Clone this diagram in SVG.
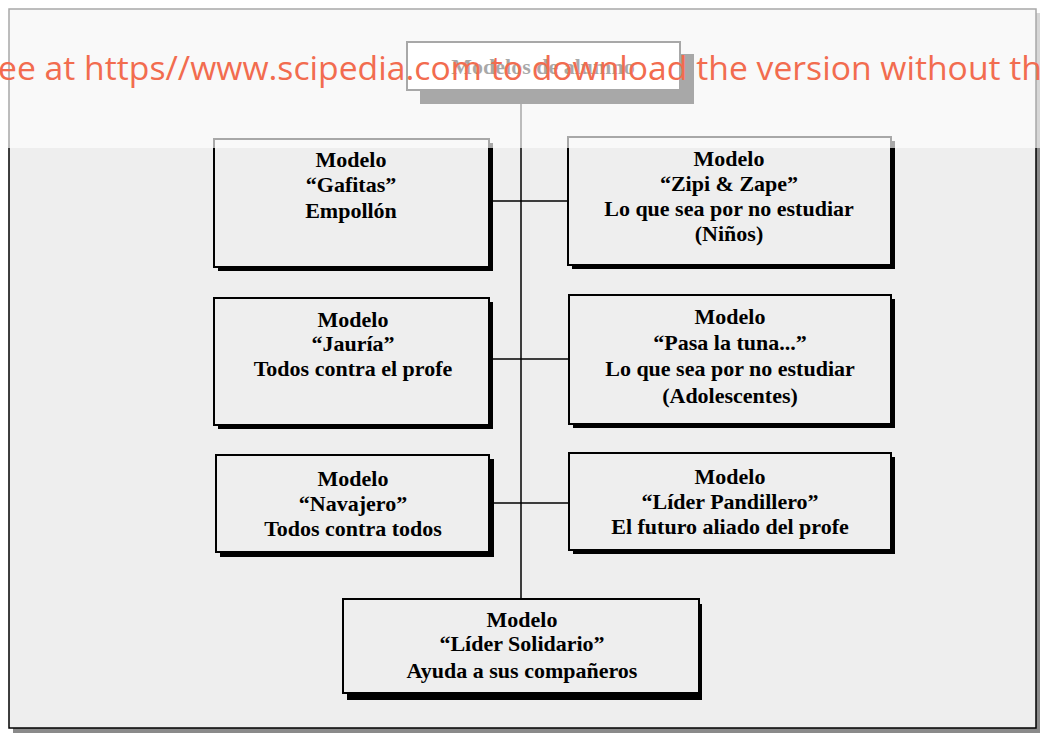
<svg xmlns="http://www.w3.org/2000/svg" width="1042" height="735" viewBox="0 0 1042 735">
<style>
.sh{fill:#000}
.bx{fill:#eeeeee;stroke:#000;stroke-width:2}
.t{font-family:"Liberation Serif","Times New Roman",serif;font-weight:bold;font-size:22px;fill:#000;text-anchor:middle}
.ln{stroke:#000;stroke-width:1.5;fill:none}
</style>
<rect x="0" y="0" width="1042" height="735" fill="#ffffff"/>
<rect x="13" y="13" width="1027" height="720" fill="#8a8a8a"/>
<rect x="9" y="9" width="1027" height="719" fill="#eeeeee" stroke="#000" stroke-width="1.5"/>
<g id="connectors">
<line class="ln" x1="521" y1="90" x2="521" y2="599"/>
<line class="ln" x1="489" y1="201" x2="568" y2="201"/>
<line class="ln" x1="489" y1="359" x2="569" y2="359"/>
<line class="ln" x1="489" y1="503" x2="569" y2="503"/>
</g>
<g id="n0">
<rect x="420" y="54" width="274" height="50" fill="#000"/>
<rect x="407" y="42" width="273" height="48" fill="#ffffff" stroke="#000" stroke-width="2"/>
<text class="t" x="543" y="74" font-size="20">Modelos de alumno</text>
</g>
<g id="n1">
<rect class="sh" x="218" y="143" width="275" height="128"/>
<rect class="bx" x="214" y="139" width="275" height="128"/>
<text class="t" x="351" y="167">Modelo</text>
<text class="t" x="351" y="192">“Gafitas”</text>
<text class="t" x="351" y="218">Empollón</text>
</g>
<g id="n2">
<rect class="sh" x="572" y="141" width="323" height="128"/>
<rect class="bx" x="568" y="137" width="323" height="128"/>
<text class="t" x="729" y="166">Modelo</text>
<text class="t" x="729" y="191">“Zipi &amp; Zape”</text>
<text class="t" x="729" y="216">Lo que sea por no estudiar</text>
<text class="t" x="729" y="241">(Niños)</text>
</g>
<g id="n3">
<rect class="sh" x="218" y="302" width="275" height="127"/>
<rect class="bx" x="214" y="298" width="275" height="127"/>
<text class="t" x="353" y="327">Modelo</text>
<text class="t" x="353" y="351">“Jauría”</text>
<text class="t" x="353" y="376">Todos contra el profe</text>
</g>
<g id="n4">
<rect class="sh" x="573" y="299" width="322" height="129"/>
<rect class="bx" x="569" y="295" width="322" height="129"/>
<text class="t" x="730" y="324">Modelo</text>
<text class="t" x="730" y="350">“Pasa la tuna...”</text>
<text class="t" x="730" y="376">Lo que sea por no estudiar</text>
<text class="t" x="730" y="403">(Adolescentes)</text>
</g>
<g id="n5">
<rect class="sh" x="220" y="459" width="274" height="98"/>
<rect class="bx" x="216" y="455" width="273" height="97"/>
<text class="t" x="353" y="486">Modelo</text>
<text class="t" x="353" y="511">“Navajero”</text>
<text class="t" x="353" y="536">Todos contra todos</text>
</g>
<g id="n6">
<rect class="sh" x="573" y="457" width="322" height="97"/>
<rect class="bx" x="569" y="453" width="322" height="97"/>
<text class="t" x="730" y="484">Modelo</text>
<text class="t" x="730" y="509">“Líder Pandillero”</text>
<text class="t" x="730" y="534">El futuro aliado del profe</text>
</g>
<g id="n7">
<rect class="sh" x="347" y="604" width="355" height="96"/>
<rect class="bx" x="343" y="599" width="356" height="94"/>
<text class="t" x="522" y="627">Modelo</text>
<text class="t" x="522" y="651">“Líder Solidario”</text>
<text class="t" x="522" y="678">Ayuda a sus compañeros</text>
</g>
<rect x="0" y="0" width="1042" height="148" fill="#ffffff" fill-opacity="0.66"/>
<text x="-2" y="80" font-family="'Open Sans','Noto Sans',sans-serif" font-size="32" fill="#f26c4f" textLength="1044" lengthAdjust="spacingAndGlyphs">ee at https//www.scipedia.com to download the version without th</text>
</svg>
